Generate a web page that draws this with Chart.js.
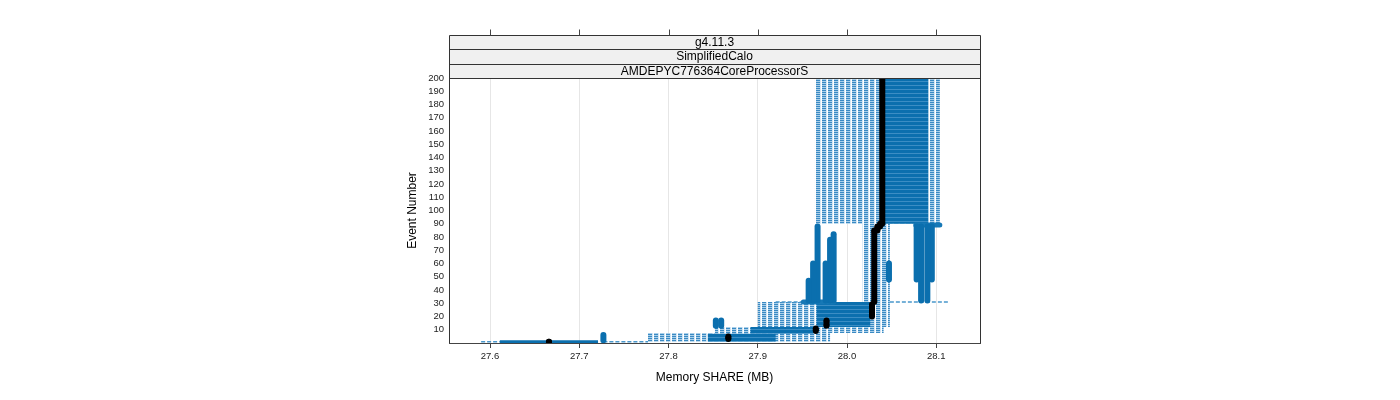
<!DOCTYPE html>
<html>
<head>
<meta charset="utf-8">
<script src="https://cdn.jsdelivr.net/npm/chart.js@4.4.0/dist/chart.umd.min.js"></script>
<style>
  body { margin: 0; background: #fff; }
  #wrap { width: 1400px; height: 400px; }
</style>
</head>
<body>
<div id="wrap"><canvas id="chart" width="1400" height="400"></canvas></div>
<script>
// strip labels and ticks
const stripLabels = ['g4.11.3', 'SimplifiedCalo', 'AMDEPYC776364CoreProcessorS']
const xTicks = [27.6, 27.7, 27.8, 27.9, 28.0, 28.1]
const yTicks = [10, 20, 30, 40, 50, 60, 70, 80, 90, 100, 110, 120, 130, 140, 150, 160, 170, 180, 190, 200]

// spread of the runs (dashed lines at every event), event range x memory range
const hatchEventFrom = [1, 1, 7.5, 12, 31, 90]
const hatchEventTo = [7.5, 7.5, 12, 31, 90, 200]
const hatchMemFrom = [27.776, 27.851, 27.852, 27.900, 28.017, 27.964]
const hatchMemTo = [27.851, 27.981, 28.041, 28.048, 28.048, 28.104]

// where the runs pile up
const denseEventFrom = [1, 7, 12, 90]
const denseEventTo = [7, 12, 31, 200]
const denseMemFrom = [27.844, 27.892, 27.966, 28.041]
const denseMemTo = [27.920, 27.962, 28.026, 28.091]

// single lines
const dashEvent = [1, 1, 31, 31, 200]
const dashMemFrom = [27.590, 27.727, 27.920, 28.048, 28.104]
const dashMemTo = [27.611, 27.777, 27.953, 28.113, 28.113]
const firstEvent = [1]
const firstMemFrom = [27.611]
const firstMemTo = [27.721]

// stacked circles of runs that stay at one value
const colMem = [27.727, 27.853, 27.859, 27.957, 27.962, 27.967, 27.976, 27.981, 27.985, 28.047, 28.078, 28.083, 28.090, 28.095]
const colEventFrom = [2, 13, 13, 32, 32, 32, 32, 32, 32, 48, 48, 32, 32, 48]
const colEventTo = [6, 17, 17, 47, 60, 88, 60, 78, 82, 60, 88, 88, 88, 88]
const rowEvent = [31, 89]
const rowMemFrom = [27.951, 28.077]
const rowMemTo = [27.985, 28.104]

// median per event
const medMem = [27.666, 27.867, 27.965, 27.977, 28.028, 28.0305, 28.034, 28.037, 28.0395]
const medEventFrom = [1, 3, 9, 13, 20, 31, 85, 88, 90]
const medEventTo = [1, 5, 11, 17, 29, 85, 88, 90, 200]

Chart.defaults.font.family = '"Liberation Sans", Arial, sans-serif'

const makePattern = (w, h, paint) => {
  let c = document.createElement('canvas')
  c.width = w
  c.height = h
  let g = c.getContext('2d')
  paint(g)
  return g.createPattern(c, 'repeat')
}

//dashes of neighbouring events line up into vertical stripes
const hatch = makePattern(6, 4, g => {
  g.fillStyle = '#ffffff'
  g.fillRect(0, 0, 6, 4)
  for (let r = 0; r < 4; r++) {
    g.fillStyle = r % 2 ? '#a9cfea' : '#3a8ac3'
    g.fillRect(0, r, 4, 1)
  }
  g.fillStyle = '#d6e8f5'
  g.fillRect(4, 0, 1, 4)
})
const dense = makePattern(1, 4, g => {
  g.fillStyle = '#0b6fae'
  g.fillRect(0, 0, 1, 4)
  g.fillStyle = '#3b8dc4'
  g.fillRect(0, 1, 1, 1)
})

const rect = (x0, x1, y0, y1) => [
  {x: x0, y: y0}, {x: x1, y: y0}, {x: x1, y: y1}, {x: x0, y: y1}, {x: x0, y: y0}
]

let datasets = []
hatchEventFrom.forEach((e, i) => {
  datasets.push({
    data: rect(hatchMemFrom[i], hatchMemTo[i], e, hatchEventTo[i]),
    showLine: true, fill: 'shape', backgroundColor: hatch,
    borderColor: 'transparent', borderWidth: 0, pointRadius: 0, order: 6, clip: 0
  })
})
denseEventFrom.forEach((e, i) => {
  datasets.push({
    data: rect(denseMemFrom[i], denseMemTo[i], e, denseEventTo[i]),
    showLine: true, fill: 'shape', backgroundColor: dense,
    borderColor: 'transparent', borderWidth: 0, pointRadius: 0, order: 5, clip: 0
  })
})
dashEvent.forEach((e, i) => {
  datasets.push({
    data: [{x: dashMemFrom[i], y: e}, {x: dashMemTo[i], y: e}],
    showLine: true, borderColor: '#4a98cc', borderWidth: 1.5, borderDash: [4, 2],
    pointRadius: 0, order: 4, clip: 0
  })
})
firstEvent.forEach((e, i) => {
  datasets.push({
    data: [{x: firstMemFrom[i], y: e}, {x: firstMemTo[i], y: e}],
    showLine: true, borderColor: '#0b6fae', borderWidth: 3,
    pointRadius: 0, order: 4, clip: 0
  })
})
colMem.forEach((m, i) => {
  datasets.push({
    data: [{x: m, y: colEventFrom[i]}, {x: m, y: colEventTo[i]}],
    showLine: true, borderColor: '#0b6fae', borderWidth: 6, borderCapStyle: 'round',
    pointRadius: 0, order: 3, clip: 0
  })
})
rowEvent.forEach((e, i) => {
  datasets.push({
    data: [{x: rowMemFrom[i], y: e}, {x: rowMemTo[i], y: e}],
    showLine: true, borderColor: '#1678b6', borderWidth: 5, borderCapStyle: 'round',
    pointRadius: 0, order: 3, clip: 0
  })
})
medMem.forEach((m, i) => {
  datasets.push({
    data: [{x: m, y: medEventFrom[i]}, {x: m, y: medEventTo[i]}],
    showLine: true, borderColor: '#000', borderWidth: 6,
    pointRadius: 3, pointBorderWidth: 0, pointBackgroundColor: '#000',
    order: 1, clip: 0
  })
})

//strips above the panel, top ticks and the panel box
const panel = {
  id: 'panel',
  afterDraw(chart) {
    const {ctx, chartArea: a, scales: {x}} = chart
    const h = 14.33
    const left = Math.round(a.left) + 0.5
    const right = Math.round(a.right) + 0.5
    const stripTop = Math.round(a.top - h * stripLabels.length) + 0.5
    ctx.save()
    ctx.fillStyle = '#f0f0f0'
    ctx.fillRect(left, stripTop, right - left, Math.round(a.top) + 0.5 - stripTop)
    ctx.strokeStyle = '#333'
    ctx.lineWidth = 1
    ctx.beginPath()
    for (let i = 0; i <= stripLabels.length; i++) {
      let y = Math.round(a.top - h * i) + 0.5
      ctx.moveTo(left, y)
      ctx.lineTo(right, y)
    }
    ctx.moveTo(left, stripTop)
    ctx.lineTo(left, a.bottom)
    ctx.moveTo(right, stripTop)
    ctx.lineTo(right, a.bottom)
    ctx.stroke()
    ctx.fillStyle = '#000'
    ctx.font = '12px "Liberation Sans", Arial, sans-serif'
    ctx.textAlign = 'center'
    ctx.textBaseline = 'middle'
    stripLabels.forEach((t, i) => {
      let top = a.top - h * (stripLabels.length - i)
      ctx.fillText(t, (a.left + a.right) / 2, top + h / 2 + 0.5)
    })
    ctx.strokeStyle = '#444'
    ctx.beginPath()
    xTicks.forEach(v => {
      let px = Math.round(x.getPixelForValue(v)) + 0.5
      ctx.moveTo(px, stripTop)
      ctx.lineTo(px, stripTop - 6)
    })
    ctx.moveTo(left, Math.round(a.bottom) + 0.5)
    ctx.lineTo(right, Math.round(a.bottom) + 0.5)
    ctx.stroke()
    ctx.restore()
  }
}

new Chart(document.getElementById('chart'), {
  type: 'scatter',
  data: {datasets: datasets},
  options: {
    responsive: false,
    animation: false,
    layout: {padding: {left: 400, right: 420, top: 78, bottom: 11}},
    plugins: {legend: {display: false}, tooltip: {enabled: false}},
    scales: {
      x: {
        type: 'linear', position: 'bottom', min: 27.554, max: 28.149,
        afterBuildTicks: s => { s.ticks = xTicks.map(v => ({value: v})) },
        afterFit: s => { s.height = 46 },
        ticks: {font: {size: 9.5}, color: '#222', padding: 3, maxRotation: 0, autoSkip: false, callback: v => v.toFixed(1)},
        grid: {color: '#e6e6e6', tickColor: '#444', tickLength: 5},
        border: {color: '#444'},
        title: {display: true, text: 'Memory SHARE (MB)', font: {size: 12}, color: '#000', padding: {top: 4, bottom: 4}}
      },
      y: {
        type: 'linear', min: 0, max: 200,
        afterBuildTicks: s => { s.ticks = yTicks.map(v => ({value: v})) },
        afterFit: s => { s.width = 49 },
        ticks: {font: {size: 9.5}, color: '#222', padding: 5, autoSkip: false},
        grid: {drawOnChartArea: false, drawTicks: false},
        border: {color: '#444'},
        title: {display: true, text: 'Event Number', font: {size: 12}, color: '#000', padding: {top: 5, bottom: 0}}
      }
    }
  },
  plugins: [panel]
})
</script>
</body>
</html>
